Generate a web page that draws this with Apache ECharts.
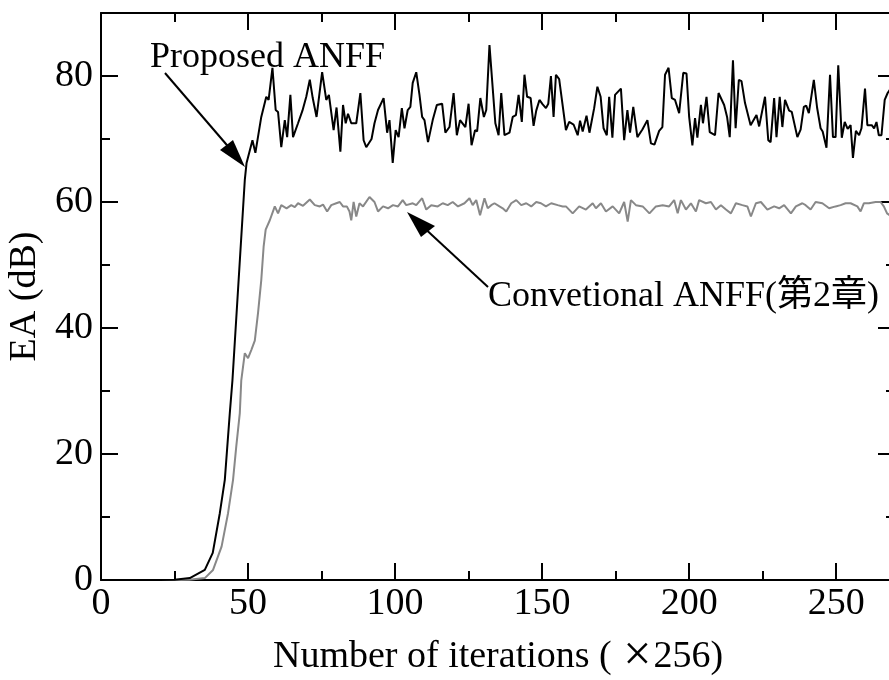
<!DOCTYPE html>
<html>
<head>
<meta charset="utf-8">
<script src="https://cdn.jsdelivr.net/npm/echarts@6/dist/echarts.min.js"></script>
<style>html,body{margin:0;padding:0;background:#fff}#c{width:889px;height:680px}</style>
</head>
<body>
<div id="c"></div>
<script>
// ---- data ----
const xTicks = [0, 50, 100, 150, 200, 250];
const yTicks = [0, 20, 40, 60, 80];
const xTitleParts = ['Number of iterations ( ', '×', '256)'];
const yTitle = 'EA (dB)';
const label1 = 'Proposed ANFF';
const label2 = 'Convetional ANFF(第2章)';

const proposedX = [0,20,25,30.2,35.3,38,40.4,42.1,43.8,44.7,48.9,49.5,51.5,52.5,54.5,56.2,57,58.3,59.4,60.2,61.3,62.5,63.3,64.4,65.3,67,68.5,69.8,71,72,73.3,75.2,76.6,77.5,79.1,80.1,81.4,82.3,83.2,84,85.1,86.8,88.2,89.3,90.2,92,93,94.2,96.1,97.3,98.1,99.2,100.2,101.2,102.3,103.2,104.3,105.2,106,107.2,108.3,109.2,110,111.2,112.8,114.2,116,117.1,118.5,119.9,121,122.1,123.9,125,126,127.2,127.9,129,130.2,131,132.1,134.1,135.2,136.1,137.2,138.9,140,141.1,142,143.1,144,144.9,146.1,147.1,148,149.1,150.2,151.3,152.1,153,153.9,154.7,155.8,158.1,159.2,160.7,162.1,162.9,163.8,165.1,166.1,167.7,168.8,169.9,170.9,172,172.8,173.9,174.8,176.8,177.9,179,179.9,181,182.4,184.1,185.8,187,188.2,189.8,190.9,191.8,193,194.1,195.2,196.6,198,199.1,200,201.1,202,202.8,204,204.7,205.9,207,208.8,210,211.9,212.9,213.8,214.9,215.8,216.9,217.8,219,220.9,222.9,223.8,225.8,226.9,227.7,228.9,229.7,230.8,231.7,232.6,234,234.9,236.8,237.9,239,239.8,240.7,242.4,243.5,244.7,245.4,246.7,247.9,248.9,249.8,250.7,251.9,252.9,253.9,254.9,255.7,256.7,257.8,258.6,259.8,260.6,262.1,262.9,263.7,264.5,265.4,266.5,267.5,268.5];
const proposedY = [0,0,0.05,0.3,1.6,4.3,10.6,15.9,26.5,31.7,63.5,66.2,69.8,67.8,73.5,76.7,76.2,81.3,74.6,74.3,68.7,73,70.3,77,70.3,72.5,74.5,76.7,79.4,76.5,73.5,80.6,76.2,77,71.4,75,68,75.4,72.5,74,72.5,72.5,77.3,69.8,68.7,70,72.5,74.6,76.5,71,73,66.2,71.4,70.3,74.9,71.7,74.6,75.1,78.9,80.6,77,73.5,73,69.5,73,75.4,75.6,71,71.9,77.3,70.6,73,71.9,75.6,69,71.4,71.2,76.5,73.5,74.6,84.9,72.5,70.6,77.3,70.6,71,73.5,73.8,77,72.7,80.2,76.7,76.5,72.1,74.5,76.2,75.5,74.9,75.6,80,73.5,80.2,79.5,71.4,72.7,72.3,70.6,72.9,71.2,73.7,71,74.9,78.3,76.7,71.7,70.6,76.7,70.2,77,78,69.8,74.6,71,75.1,70.3,71.5,73,69.3,69.1,71.3,71.9,80.2,81.3,76.5,76.2,74.1,80.5,80.4,73.5,69,73.3,70.2,75.4,72.5,76.7,71.1,70.6,77.3,75.4,73.5,70.3,82.5,71.7,79.4,79.2,75.7,72.2,73.8,72,76.7,69.8,69.5,76.5,70.3,76.7,71.9,76.2,74.5,74.3,70.3,71.5,75.1,75.3,74.1,79.4,75,71.7,71.2,68.6,80.2,70.3,70.3,81.7,70.2,72.7,71.6,72.2,67,71.3,70.6,71.7,78,72.2,72.2,71.7,72.7,70.6,70.6,76.2,77.3,78];

const convX = [0,25,30,35.3,38.1,41,43.2,44.9,46,47.2,47.7,48.9,50,51.1,52.3,53.4,54.5,55.3,56,57.4,59.1,60.2,61.3,63.1,64.7,65.9,67,68.7,71,72.7,74.4,75.5,76.9,78.3,80,81.2,82.3,83.6,84.5,85.1,85.9,86.8,87.9,89.1,91.3,93,94.2,95.9,97.6,99.3,101,102.6,103.8,106,107.2,109.2,110.6,112.3,114.5,116.2,117.9,119.6,121.4,123.6,125.3,126.4,127.6,128.9,130.4,131.5,132.7,133.8,135.5,136.6,137.8,139.5,141.2,142.9,144.6,146.3,148,149.6,151.3,153.1,155.3,157,158.1,160.4,162.6,164.9,167.2,168.3,170,171.7,174,176.2,177.9,179.1,180.2,181.9,184.2,186.5,188.7,191,193.2,194.9,196.1,197.2,198.9,200.6,202.3,203.4,205.7,207.4,209.1,210.8,212.5,214.2,215.9,218.1,219.8,221,222.7,224.4,226.6,228.9,230.6,232.3,234.6,236.3,238.5,239.6,241.3,243,245.3,247.6,249.8,251.5,253.2,254.9,257.2,258.3,259.4,261.1,263.4,265.1,266.2,267.3,268.5];
const convY = [0,0,0.05,0.3,1.6,5.3,10.6,15.9,21.2,26.5,31.7,36,35.2,36.5,38,42.4,47.6,52.9,55.6,57.1,59.3,58.2,59.5,59,59.5,59.2,59.8,59.4,60.4,59.5,59.3,59.6,58.5,59.5,59.8,60,59.3,59.3,58.5,57.1,60,57.7,59.8,59.3,60.8,60,58.5,59.3,59,59.5,59.3,60.3,59.5,59.8,59.5,60.6,58.8,59.5,59.3,59.8,59.5,60,59.3,59.8,60.6,59.5,60.3,57.9,60.6,59,59.5,59.8,59.3,59,58.5,59.8,60.3,59.5,59.8,59.3,60,59.8,59.3,59.8,59.5,59.3,59.3,58.2,59.3,58.8,59.8,59,59.8,58.5,59.3,58.2,60,56.9,60.3,59.5,59.3,58.2,59.3,59.5,59.3,60.3,58.2,60.3,58.8,59.8,58.5,60.3,59.8,60,58.8,59.5,58.8,58.2,59.8,59.5,59.3,57.7,59.8,60,58.8,59.3,59,59.5,58.2,59.3,59.8,59.5,58.8,60,59.8,59,59.3,59.5,59.8,59.8,59.3,58.5,59.8,59.8,60,60,59.3,58.2,57.8];

// ---- chart ----
const FONT = "'Liberation Serif', 'Times New Roman', serif";
const CJK = "'Liberation Serif', 'Noto Sans CJK JP', serif";
const toPairs = (xs, ys) => xs.map((x, i) => [x, ys[i]]);
const xMin = xTicks[0], xMax = 270, yMin = yTicks[0], yMax = 90;
const ax = {color: '#000', width: 2};

function xAx(pos, interval, len, labels, extra) {
  return Object.assign({
    type: 'value', position: pos, min: xMin, max: xMax, interval: interval,
    axisLine: {show: interval === 50, onZero: false, lineStyle: ax},
    axisTick: {show: true, inside: true, length: len, lineStyle: ax},
    axisLabel: labels ? {show: true, margin: 5, color: '#000', fontFamily: FONT, fontSize: 38,
      formatter: v => (xTicks.indexOf(v) >= 0 ? String(v) : '')} : {show: false},
    splitLine: {show: false}
  }, extra || {});
}
function yAx(pos, interval, len, labels, extra) {
  return Object.assign({
    type: 'value', position: pos, min: yMin, max: yMax, interval: interval,
    axisLine: {show: interval === 20, onZero: false, lineStyle: ax},
    axisTick: {show: true, inside: true, length: len, lineStyle: ax},
    axisLabel: labels ? {show: true, margin: 8, color: '#000', fontFamily: FONT, fontSize: 38,
      formatter: v => (yTicks.indexOf(v) >= 0 ? String(v) : '')} : {show: false},
    splitLine: {show: false}
  }, extra || {});
}

const chart = echarts.init(document.getElementById('c'), null, {renderer: 'canvas'});
chart.setOption({
  animation: false,
  backgroundColor: '#fff',
  grid: {left: 101, top: 13, width: 794, height: 567, containLabel: false, outerBoundsMode: 'none'},
  xAxis: [
    xAx('bottom', 50, 17, true, {
      name: '{a|' + xTitleParts[0] + '}{b|' + xTitleParts[1] + '}{a|' + xTitleParts[2] + '}',
      nameLocation: 'middle', nameGap: 52,
      nameTextStyle: {color: '#000', fontFamily: FONT, fontSize: 38,
        rich: {a: {fontFamily: FONT, fontSize: 38, color: '#000'},
               b: {fontFamily: FONT, fontSize: 50, color: '#000', padding: [0, 2, 0, 2]}}}}),
    xAx('bottom', 25, 9, false),
    xAx('top', 50, 17, false),
    xAx('top', 25, 9, false)
  ],
  yAxis: [
    yAx('left', 20, 17, true, {name: yTitle, nameLocation: 'middle', nameGap: 54,
      nameTextStyle: {color: '#000', fontFamily: FONT, fontSize: 38}}),
    yAx('left', 10, 9, false),
    yAx('right', 20, 17, false),
    yAx('right', 10, 9, false)
  ],
  series: [
    {type: 'line', xAxisIndex: 0, yAxisIndex: 0, data: toPairs(convX, convY), showSymbol: false,
      lineStyle: {color: '#888', width: 2}, z: 2},
    {type: 'line', xAxisIndex: 0, yAxisIndex: 0, data: toPairs(proposedX, proposedY), showSymbol: false,
      lineStyle: {color: '#000', width: 2}, z: 3}
  ],
  graphic: [
    {type: 'text', left: 150, top: 40, style: {text: label1, font: "36px " + FONT, fill: '#000'}, z: 10},
    {type: 'text', left: 488, top: 279, style: {text: label2, font: "36px " + CJK, fill: '#000'}, z: 10},
    {type: 'line', shape: {x1: 165, y1: 73, x2: 232, y2: 151}, style: {stroke: '#000', lineWidth: 2}, z: 10},
    {type: 'polygon', shape: {points: [[245, 167], [220, 150], [233, 140]]}, style: {fill: '#000'}, z: 10},
    {type: 'line', shape: {x1: 488, y1: 287, x2: 420, y2: 224}, style: {stroke: '#000', lineWidth: 2}, z: 10},
    {type: 'polygon', shape: {points: [[407, 212], [421, 237], [435, 226]]}, style: {fill: '#000'}, z: 10}
  ]
});
</script>
</body>
</html>
